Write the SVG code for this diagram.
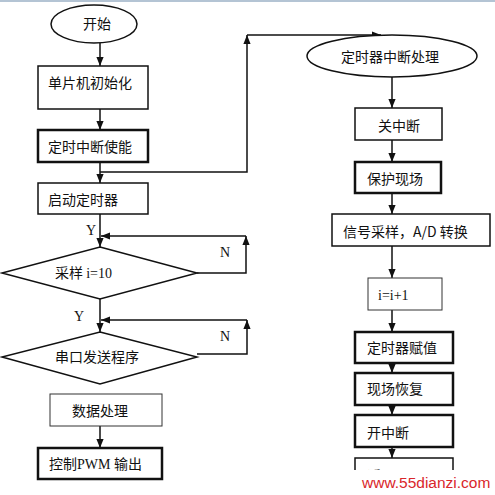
<svg xmlns="http://www.w3.org/2000/svg" width="495" height="495" viewBox="0 0 495 495">
<defs>
<style>
.bx{fill:#fff;stroke:#111;stroke-width:1.5}
.thick{stroke-width:2.5}
.thin{stroke:#333;stroke-width:1}
.cn{font-family:"Noto Sans CJK SC","Noto Sans",sans-serif;font-size:14px;fill:#111}
.sf{font-family:"Liberation Serif",serif;font-size:14px;fill:#111}
.ln{fill:none;stroke:#111;stroke-width:1.5}
</style>
<marker id="ah" viewBox="0 0 10 10" refX="10" refY="5" markerWidth="9" markerHeight="9" markerUnits="userSpaceOnUse" orient="auto"><path d="M0,1 L10,5 L0,9 z" fill="#111"/></marker>
<clipPath id="cut"><rect x="350" y="455" width="110" height="15"/></clipPath>
</defs>
<rect width="495" height="495" fill="#fff"/>
<line x1="0" y1="1" x2="495" y2="1" stroke="#b4c4d4" stroke-width="2"/>

<g id="connectors" class="ln">
<path d="M100,43 V66" marker-end="url(#ah)"/>
<path d="M100,109 V130" marker-end="url(#ah)"/>
<path d="M100,162 V183" marker-end="url(#ah)"/>
<path d="M100,172 H247 V35" marker-end="url(#ah)"/>
<path d="M247,35 H381" marker-end="url(#ah)"/>
<path d="M100,214 V247" marker-end="url(#ah)"/>
<path d="M197,273 H246 V236" marker-end="url(#ah)"/>
<path d="M246,236 H101" marker-end="url(#ah)"/>
<path d="M100,299 V332" marker-end="url(#ah)"/>
<path d="M197,354 H247 V320" marker-end="url(#ah)"/>
<path d="M247,320 H101" marker-end="url(#ah)"/>
<path d="M100,415 V448" marker-end="url(#ah)"/>
<path d="M392,77 V108" marker-end="url(#ah)"/>
<path d="M392,140 V162" marker-end="url(#ah)"/>
<path d="M392,193 V214" marker-end="url(#ah)"/>
<path d="M392,246 V278" marker-end="url(#ah)"/>
<path d="M392,310 V332" marker-end="url(#ah)"/>
<path d="M392,363 V373" marker-end="url(#ah)"/>
<path d="M392,405 V415" marker-end="url(#ah)"/>
<path d="M392,447 V458" marker-end="url(#ah)"/>
<g stroke="none">
<text class="sf" x="86" y="235">Y</text>
<text class="sf" x="74" y="321">Y</text>
<text class="sf" x="220" y="257">N</text>
<text class="sf" x="220" y="341">N</text>
</g>
</g>

<g id="start">
<ellipse class="bx" cx="94" cy="24" rx="43" ry="19"/>
<text class="cn" x="97" y="29" text-anchor="middle">开始</text>
</g>
<g id="init">
<rect class="bx" x="38" y="66" width="110" height="43"/>
<text class="cn" x="48" y="88">单片机初始化</text>
</g>
<g id="int-enable">
<rect class="bx thick" x="38" y="130" width="110" height="32"/>
<text class="cn" x="48" y="152">定时中断使能</text>
</g>
<g id="start-timer">
<rect class="bx" x="38" y="183" width="110" height="31"/>
<text class="cn" x="48" y="205">启动定时器</text>
</g>
<g id="sample-check">
<polygon class="bx" points="100,247 197,273 100,299 2,273"/>
<text x="55" y="278"><tspan class="cn">采样 </tspan><tspan class="sf">i=10</tspan></text>
</g>
<g id="serial-send">
<polygon class="bx" points="100,332 197,357 100,384 2,357"/>
<text class="cn" x="55" y="362">串口发送程序</text>
</g>
<g id="data-proc">
<rect class="bx thin" x="50" y="394" width="112" height="32"/>
<text class="cn" x="72" y="416">数据处理</text>
</g>
<g id="pwm-out">
<rect class="bx thick" x="38" y="448" width="124" height="31"/>
<text x="49" y="469"><tspan class="cn">控制</tspan><tspan class="sf">PWM </tspan><tspan class="cn">输出</tspan></text>
</g>

<g id="isr">
<ellipse class="bx" cx="392" cy="56" rx="85" ry="21"/>
<text class="cn" x="390" y="62" text-anchor="middle">定时器中断处理</text>
</g>
<g id="int-off">
<rect class="bx" x="355" y="108" width="87" height="32"/>
<text class="cn" x="378" y="131">关中断</text>
</g>
<g id="save-ctx">
<rect class="bx thick" x="355" y="162" width="86" height="31"/>
<text class="cn" x="367" y="184">保护现场</text>
</g>
<g id="adc">
<rect class="bx" x="332" y="214" width="158" height="32"/>
<text x="343" y="237"><tspan class="cn">信号采样，</tspan><tspan class="cn" font-family="Liberation Sans">A/D </tspan><tspan class="cn">转换</tspan></text>
</g>
<g id="inc">
<rect class="bx thin" x="368" y="278" width="74" height="32"/>
<text class="sf" x="378" y="300">i=i+1</text>
</g>
<g id="timer-load">
<rect class="bx thick" x="355" y="332" width="98" height="31"/>
<text class="cn" x="367" y="353">定时器赋值</text>
</g>
<g id="restore-ctx">
<rect class="bx thick" x="355" y="373" width="98" height="32"/>
<text class="cn" x="367" y="394">现场恢复</text>
</g>
<g id="int-on">
<rect class="bx thick" x="355" y="415" width="98" height="32"/>
<text class="cn" x="367" y="438">开中断</text>
</g>
<g id="return" clip-path="url(#cut)">
<rect class="bx" x="355" y="458" width="98" height="30"/>
<text class="cn" x="367" y="481">返回</text>
</g>
<g id="watermark">
<text x="362" y="488" font-family="Liberation Sans,Arial,sans-serif" font-size="15.5" fill="#d9262a">www.55dianzi.com</text>
</g>
</svg>
